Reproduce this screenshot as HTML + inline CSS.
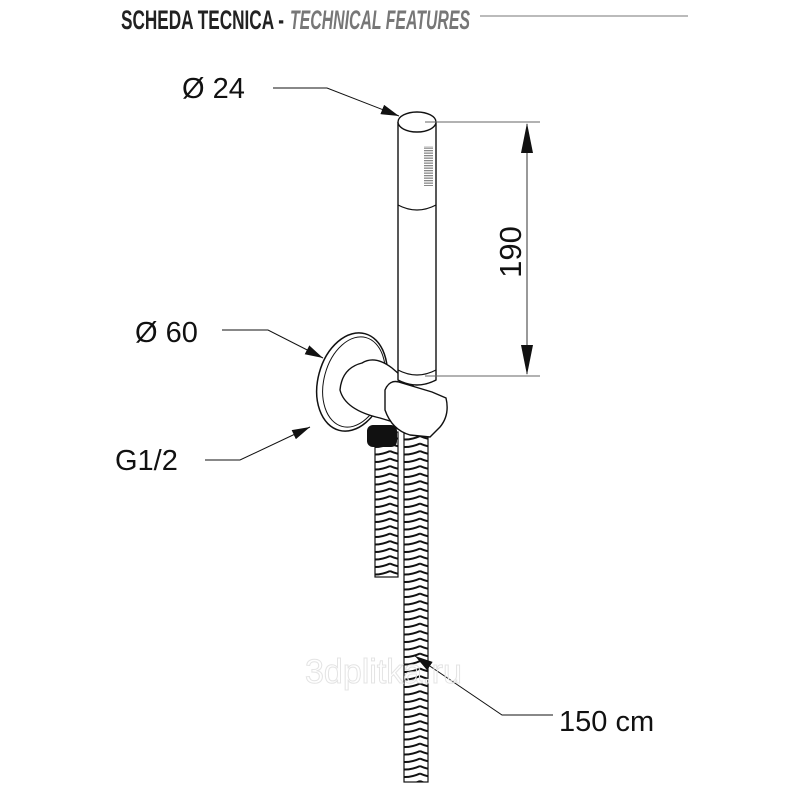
<!DOCTYPE html>
<html><head><meta charset="utf-8"><style>
body{margin:0;background:#fff}
svg{display:block}
</style></head><body>
<svg width="800" height="800" viewBox="0 0 800 800" xmlns="http://www.w3.org/2000/svg">
<defs>
<pattern id="rib" x="0" y="0" width="30" height="7.5" patternUnits="userSpaceOnUse">
<rect width="30" height="7.5" fill="#fff"/>
<path d="M0 1 Q15 8 30 1" stroke="#111" stroke-width="2" fill="none"/>
</pattern>
<pattern id="grill" x="0" y="0" width="9" height="2.5" patternUnits="userSpaceOnUse">
<rect width="9" height="2.5" fill="#fff"/>
<rect width="9" height="1.3" fill="#888"/>
</pattern>
<marker id="ar" markerWidth="18" markerHeight="10" refX="18" refY="5" orient="auto" markerUnits="userSpaceOnUse">
<path d="M0 0 L18 5 L0 10 Z" fill="#111"/>
</marker>
</defs>
<!-- header -->
<text x="121" y="29" font-family="Liberation Sans, sans-serif" font-weight="bold" font-size="27" fill="#222" textLength="163" lengthAdjust="spacingAndGlyphs">SCHEDA TECNICA -</text>
<text x="290" y="29" font-family="Liberation Sans, sans-serif" font-weight="bold" font-style="italic" font-size="27" fill="#777" textLength="180" lengthAdjust="spacingAndGlyphs">TECHNICAL FEATURES</text>
<line x1="480" y1="16" x2="688" y2="16" stroke="#bbb" stroke-width="2"/>

<!-- hoses -->
<rect x="375" y="432" width="23" height="145" fill="url(#rib)" stroke="#111" stroke-width="1.2"/>
<rect x="404" y="432" width="24" height="350" fill="url(#rib)" stroke="#111" stroke-width="1.2"/>
<rect x="367" y="425" width="30" height="22" rx="6" fill="#111"/>

<!-- wall disc -->
<ellipse cx="352" cy="382" rx="34" ry="50" transform="rotate(15 352 382)" fill="#fff" stroke="#111" stroke-width="1.5"/>
<ellipse cx="354" cy="382" rx="30" ry="46" transform="rotate(15 354 382)" fill="none" stroke="#111" stroke-width="1"/>
<!-- arm -->
<path d="M362 363 Q375 355 392 368 L420 392 L420 430 L380 418 Q345 410 340 390 Q342 368 362 363 Z" fill="#fff" stroke="#111" stroke-width="1.4"/>
<path d="M385 390 Q390 378 402 383 L432 392 L446 398 Q450 415 440 427 L430 437 L410 435 Q392 430 385 410 Z" fill="#fff" stroke="#111" stroke-width="1.4"/>

<!-- handle -->
<path d="M398 122 L398 380 Q417 390 436 380 L436 122" fill="#fff" stroke="#111" stroke-width="1.4"/>
<ellipse cx="417" cy="122" rx="19" ry="10" fill="#fff" stroke="#111" stroke-width="1.4"/>
<path d="M398 205 Q417 215 436 205" fill="none" stroke="#111" stroke-width="1.2"/>
<path d="M398 370 Q417 380 436 370" fill="none" stroke="#111" stroke-width="1.2"/>
<rect x="424" y="146" width="9" height="40" fill="url(#grill)"/>

<!-- dimension 190 -->
<line x1="425" y1="122" x2="540" y2="122" stroke="#666" stroke-width="1"/>
<line x1="425" y1="376" x2="540" y2="376" stroke="#666" stroke-width="1"/>
<line x1="527" y1="124" x2="527" y2="374" stroke="#333" stroke-width="1"/>
<path d="M527 123 L521 153 L533 153 Z" fill="#111"/>
<path d="M527 375 L521 345 L533 345 Z" fill="#111"/>
<text x="0" y="0" transform="translate(521,252) rotate(-90)" text-anchor="middle" font-family="Liberation Sans, sans-serif" font-size="31" fill="#111">190</text>

<!-- labels -->
<g font-family="Liberation Sans, sans-serif" font-size="29" fill="#111">
<text x="182" y="98">Ø 24</text>
<text x="135" y="342">Ø 60</text>
<text x="115" y="470">G1/2</text>
<text x="559" y="731">150 cm</text>
</g>
<g stroke="#111" stroke-width="1" fill="none">
<polyline points="273,88 327,88 399,116" marker-end="url(#ar)"/>
<polyline points="222,330 268,330 323,358" marker-end="url(#ar)"/>
<polyline points="205,460 240,460 310,427" marker-end="url(#ar)"/>
<polyline points="553,715 502,715 415,656" marker-end="url(#ar)"/>
</g>
<text x="305" y="683" font-family="Liberation Sans, sans-serif" font-size="34" fill="none" stroke="#e4e4e4" stroke-width="1">3dplitka.ru</text>
</svg>
</body></html>
